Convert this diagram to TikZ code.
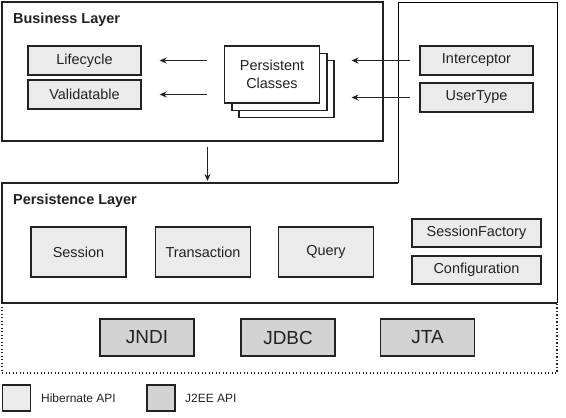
\documentclass[tikz,border=0pt]{standalone}
\usepackage{fontspec}
\setmainfont{Liberation Sans}
\usetikzlibrary{arrows.meta,calc}
\definecolor{hib}{HTML}{EBEBEB}
\definecolor{jee}{HTML}{D3D3D3}
\definecolor{ink}{HTML}{222222}
\definecolor{thin}{HTML}{707070}
\begin{document}
\begin{tikzpicture}[x=1bp,y=-1bp,
  every node/.style={text=ink},
  apibox/.style={draw=ink,line width=1.3bp,fill=hib,inner sep=0pt,font=\fontsize{14.5}{16}\selectfont},
  jeebox/.style={draw=ink,line width=1.3bp,fill=jee,inner sep=0pt,font=\fontsize{19}{21}\selectfont,minimum width=94bp,minimum height=37bp},
  stackbox/.style={draw=ink,line width=1.1bp,fill=white,inner sep=0pt,minimum width=95bp,minimum height=57bp},
  layerbox/.style={draw=ink,line width=1.3bp},
  arr/.style={draw=ink,line width=1.1bp,-{Stealth[length=7bp,width=6bp]}},
  lbl/.style={font=\bfseries\fontsize{14.5}{16}\selectfont,inner sep=0pt,anchor=base west},
  legtext/.style={font=\fontsize{12}{14}\selectfont,inner sep=0pt,anchor=west}]
\useasboundingbox (0,0) rectangle (566,417);
\fill[white] (0,0) rectangle (566,417);

% business layer
\node[layerbox,minimum width=381bp,minimum height=139bp,inner sep=0pt] (bl) at (192.5,71.5) {};
\node[lbl] (bltitle) at (13,23) {Business Layer};

% persistence layer outline (with right column)
\coordinate (p1) at (398,183);
\coordinate (p2) at (2,183);
\coordinate (p3) at (2,303);
\coordinate (p4) at (557,303);
\coordinate (c1) at (398,2);
\coordinate (c2) at (557,2);
\draw[thin,line width=0.9bp] (p1) -- (c1) -- (c2) -- (p4);
\draw[layerbox] (p1) -- (p2) -- (p3) -- (p4);
\node[lbl] (pltitle) at (13,204) {Persistence Layer};

% dotted J2EE area
\coordinate (d1) at (2,373);
\coordinate (d2) at (557,373);
\draw[ink,line width=1.1bp,dash pattern=on 1.2bp off 2.3bp] (p3) -- (d1) -- (d2) -- (p4);

% business layer content
\node[apibox,minimum width=113bp,minimum height=29bp] (life) at (84.5,60.5) {Lifecycle};
\node[apibox,minimum width=113bp,minimum height=29bp] (valid) at (84.5,94.5) {Validatable};
\node[stackbox] (pc3) at (286.5,89) {};
\node[stackbox] (pc2) at (279.5,82) {};
\node[stackbox,align=center,font=\fontsize{14.5}{18}\selectfont] (pc) at (272,74.5) {Persistent\\Classes};

\node[apibox,minimum width=113bp,minimum height=29bp] (icp) at (476.5,60.5) {Interceptor};
\node[apibox,minimum width=113bp,minimum height=29bp] (ut) at (476.5,97.5) {UserType};

\draw[arr,shorten <=17bp,shorten >=18bp] (pc.west |- life.east) -- (life.east);
\draw[arr,shorten <=17bp,shorten >=18bp] (pc.west |- valid.east) -- (valid.east);
\draw[arr,shorten <=9bp,shorten >=17bp] (icp.west) -- (pc3.east |- icp.west);
\draw[arr,shorten <=9bp,shorten >=17bp] (ut.west) -- (pc3.east |- ut.west);

\coordinate (dx) at (207.5,0);
\draw[arr,shorten <=5bp,shorten >=2bp] (dx |- bl.south) -- (dx |- p2);

% persistence layer content
\node[apibox,minimum width=95bp,minimum height=50bp] (sess) at (78.5,252) {Session};
\node[apibox,minimum width=95bp,minimum height=50bp] (tx) at (203,252) {Transaction};
\node[apibox,minimum width=95bp,minimum height=50bp] (qry) at (326,252) {Query};
\node[apibox,minimum width=129bp,minimum height=28bp] (sf) at (476.5,233) {SessionFactory};
\node[apibox,minimum width=129bp,minimum height=28bp] (cfg) at (476.5,270) {Configuration};

% J2EE
\node[jeebox] (jndi) at (147,337.5) {JNDI};
\node[jeebox] (jdbc) at (288,337.5) {JDBC};
\node[jeebox] (jta) at (427.5,337.5) {JTA};

% legend
\node[apibox,minimum width=28bp,minimum height=26bp] (leg1) at (16.5,398) {};
\node[legtext] (leg1t) at (41,398) {Hibernate API};
\node[apibox,fill=jee,minimum width=28bp,minimum height=26bp] (leg2) at (161,398) {};
\node[legtext] (leg2t) at (185,398) {J2EE API};
\end{tikzpicture}
\end{document}
